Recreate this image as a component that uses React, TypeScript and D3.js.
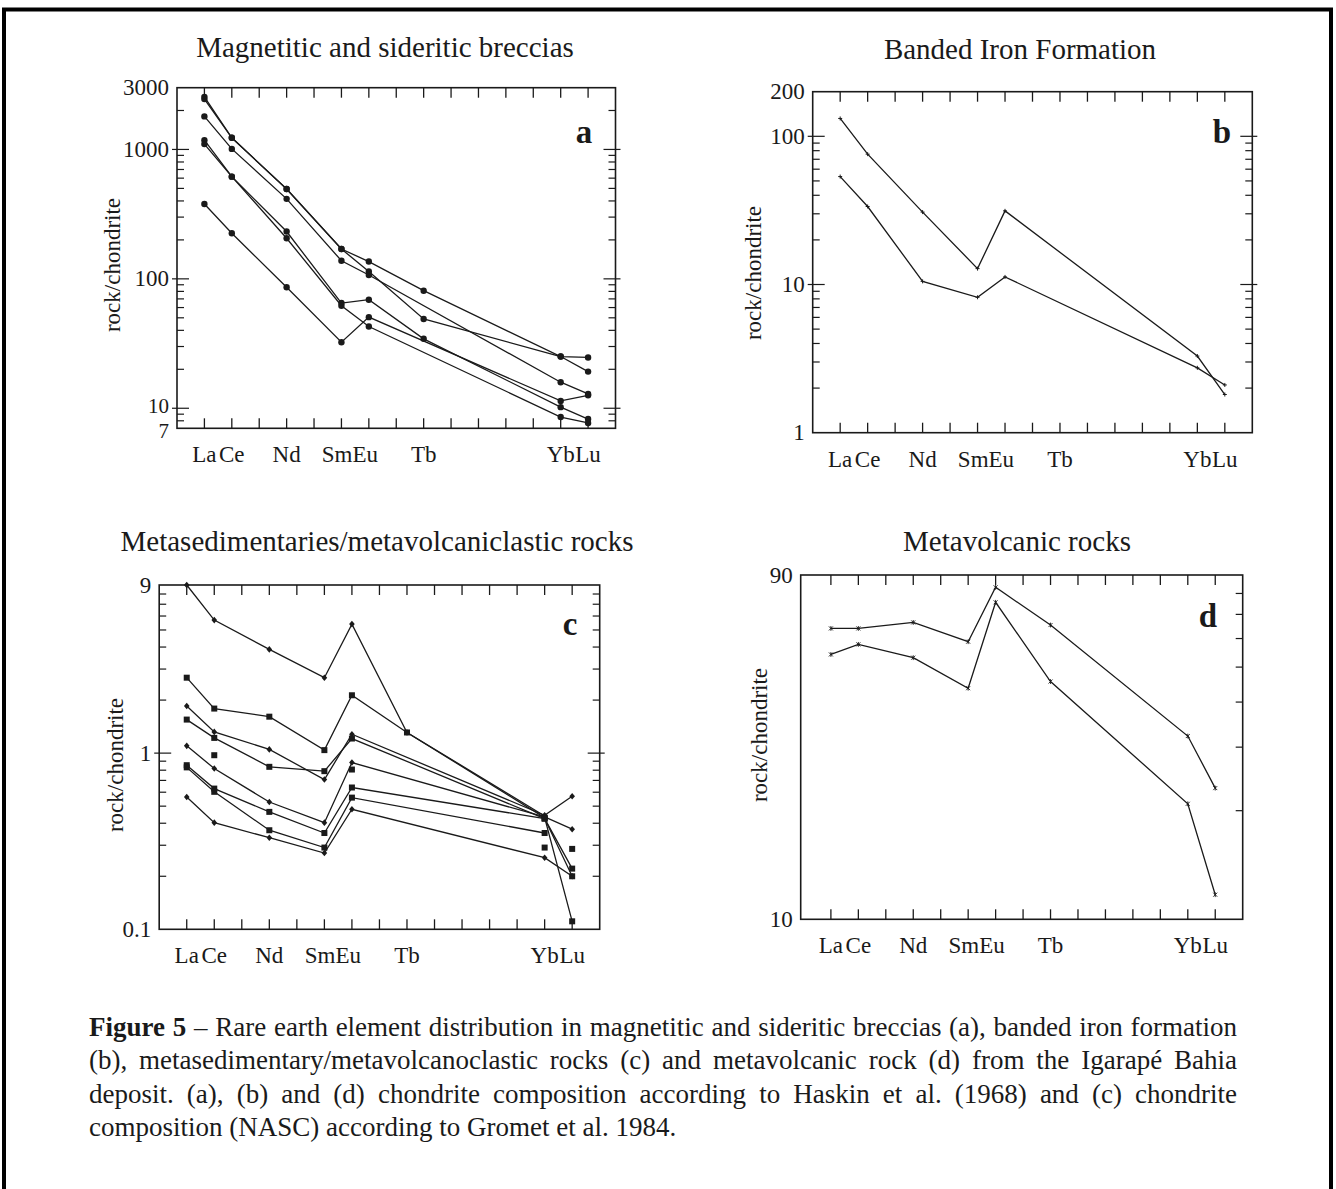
import React, { useLayoutEffect, useRef, useState } from 'react';
import * as d3 from 'd3';

// ---------- shared axis data ----------
const ELEMENTS = ['La', 'Ce', 'Nd', 'Sm', 'Eu', 'Tb', 'Yb', 'Lu'];
const ATOMIC = [57, 58, 60, 62, 63, 65, 70, 71];
const REE_TICKS = [57, 58, 59, 60, 61, 62, 63, 64, 65, 66, 67, 68, 69, 70, 71];

// ---------- panel a ----------
const A_TITLE = 'Magnetitic and sideritic breccias';
const A_Y_LABELS = [3000, 1000, 100, 10, 7];
const A_S1 = [2550, 1230, 495, 170, 136, 81, 25.1, 24.7];
const A_S2 = [2450, 1230, 495, 170, 114, 49, 25.1, 19.2];
const A_S3 = [1800, 1010, 415, 138, 107, null, 15.9, 12.9];
const A_S4 = [1180, 616, 232, 65, 69, 34.4, 10.2, 8.25];
const A_S5 = [1100, 616, 206, 62, 42.8, null, 8.55, 7.7];
const A_S6 = [379, 225, 86, 32.4, 50.6, null, 11.4, 12.6];

// ---------- panel b ----------
const B_TITLE = 'Banded Iron Formation';
const B_Y_LABELS = [200, 100, 10, 1];
const B_S1 = [132, 75.8, 30.8, 12.8, 31.4, null, 3.29, 1.81];
const B_S2 = [53.5, 33.6, 10.5, 8.2, 11.25, null, 2.74, 2.1];

// ---------- panel c ----------
const C_TITLE = 'Metasedimentaries/metavolcaniclastic rocks';
const C_Y_LABELS = [9, 1, 0.1];
const C_S1 = [9.0, 5.69, 3.88, 2.68, 5.4, 1.31, 0.44, null];
const C_S2 = [2.68, 1.79, 1.61, 1.04, 2.13, 1.31, 0.43, 0.111];
const C_S3 = [1.85, 1.32, 1.05, 0.708, 1.28, null, 0.444, 0.569];
const C_S4 = [1.55, 1.22, 0.836, 0.79, 1.21, null, 0.425, 0.221];
const C_S5 = [1.1, 0.818, 0.528, 0.403, 0.884, null, 0.434, 0.37];
const C_S6 = [0.854, 0.629, 0.464, 0.352, 0.638, null, 0.425, 0.2];
const C_S7 = [0.83, 0.603, 0.365, 0.291, 0.559, null, 0.352, null];
const C_S8 = [0.564, 0.403, 0.331, 0.271, 0.48, null, 0.255, 0.2];
const C_P1 = [null, 0.973, null, null, null, null, null, null];
const C_P2 = [null, null, null, null, 0.807, null, null, null];
const C_P3 = [null, null, null, null, null, null, 0.291, null];
const C_P4 = [null, null, null, null, null, null, null, 0.286];

// ---------- panel d ----------
const D_TITLE = 'Metavolcanic rocks';
const D_Y_LABELS = [90, 10];
const D_S1 = [64.0, 64.0, 66.5, 58.8, 83.2, 65.4, 32.2, 23.1];
const D_S2 = [54.2, 57.8, 53.1, 43.7, 75.6, 45.6, 20.9, 11.7];

// ---------- caption ----------
const CAPTION_BOLD = 'Figure 5';
const CAPTION_LINES = [
  'Figure 5 \u2013 Rare earth element distribution in magnetitic and sideritic breccias (a), banded iron formation',
  '(b), metasedimentary/metavolcanoclastic rocks (c) and metavolcanic rock (d) from the Igarap\u00e9 Bahia',
  'deposit. (a), (b) and (d) chondrite composition according to Haskin et al. (1968) and (c) chondrite',
  'composition (NASC) according to Gromet et al. 1984.',
];

type Marker = 'circle' | 'plus' | 'diamond' | 'square' | 'star';
type Series = { values: (number | null)[]; marker: Marker };
type PanelSpec = {
  key: string;
  title: string;
  titleX: number;
  titleY: number;
  letter: string;
  letterX: number;
  letterY: number;
  x0: number;
  left: number;
  right: number;
  top: number;
  bottom: number;
  yMin: number;
  yMax: number;
  yLabels: number[];
  leftTicks: boolean;
  series: Series[];
  ylabX: number;
  ylabY: number;
};

const PANELS: PanelSpec[] = [
  {
    key: 'a', title: A_TITLE, titleX: 385, titleY: 57, letter: 'a', letterX: 584, letterY: 143,
    x0: 56, left: 177, right: 615.5, top: 87.7, bottom: 428.3, yMin: 7, yMax: 3000,
    yLabels: A_Y_LABELS, leftTicks: true, ylabX: 112, ylabY: 265,
    series: [A_S1, A_S2, A_S3, A_S4, A_S5, A_S6].map((v) => ({ values: v, marker: 'circle' as Marker })),
  },
  {
    key: 'b', title: B_TITLE, titleX: 1020, titleY: 59, letter: 'b', letterX: 1222, letterY: 143,
    x0: 56, left: 812.7, right: 1252.3, top: 91.7, bottom: 432.7, yMin: 1, yMax: 200,
    yLabels: B_Y_LABELS, leftTicks: true, ylabX: 753, ylabY: 273,
    series: [B_S1, B_S2].map((v) => ({ values: v, marker: 'plus' as Marker })),
  },
  {
    key: 'c', title: C_TITLE, titleX: 377, titleY: 551, letter: 'c', letterX: 570, letterY: 635,
    x0: 56, left: 159.2, right: 599.7, top: 585, bottom: 929.3, yMin: 0.1, yMax: 9,
    yLabels: C_Y_LABELS, leftTicks: true, ylabX: 115, ylabY: 765,
    series: [
      { values: C_S1, marker: 'diamond' },
      { values: C_S2, marker: 'square' },
      { values: C_S3, marker: 'diamond' },
      { values: C_S4, marker: 'square' },
      { values: C_S5, marker: 'diamond' },
      { values: C_S6, marker: 'square' },
      { values: C_S7, marker: 'square' },
      { values: C_S8, marker: 'diamond' },
      { values: C_P1, marker: 'square' },
      { values: C_P2, marker: 'square' },
      { values: C_P3, marker: 'square' },
      { values: C_P4, marker: 'square' },
    ],
  },
  {
    key: 'd', title: D_TITLE, titleX: 1017, titleY: 551, letter: 'd', letterX: 1208, letterY: 627,
    x0: 55.9, left: 800.7, right: 1242.7, top: 575, bottom: 919.3, yMin: 10, yMax: 90,
    yLabels: D_Y_LABELS, leftTicks: false, ylabX: 759, ylabY: 735,
    series: [D_S1, D_S2].map((v) => ({ values: v, marker: 'star' as Marker })),
  },
];

const SERIF = '"Liberation Serif", "Times New Roman", Times, serif';
const INK = '#1a1a1a';

function MarkerShape({ m, cx, cy }: { m: Marker; cx: number; cy: number }) {
  if (m === 'circle') return <circle cx={cx} cy={cy} r={3.2} fill={INK} />;
  if (m === 'square') return <rect x={cx - 3} y={cy - 3} width={6} height={6} fill={INK} />;
  if (m === 'diamond')
    return <path d={`M${cx},${cy - 3.3}L${cx + 2.8},${cy}L${cx},${cy + 3.3}L${cx - 2.8},${cy}Z`} fill={INK} />;
  if (m === 'plus')
    return <path d={`M${cx - 2},${cy}H${cx + 2}M${cx},${cy - 2}V${cy + 2}`} stroke={INK} strokeWidth={1} />;
  return (
    <path
      d={`M${cx - 2},${cy - 2}L${cx + 2},${cy + 2}M${cx - 2},${cy + 2}L${cx + 2},${cy - 2}M${cx},${cy - 2.4}V${cy + 2.4}`}
      stroke={INK}
      strokeWidth={0.9}
    />
  );
}

function Panel({ p }: { p: PanelSpec }) {
  const x = d3.scaleLinear().domain([p.x0, 72]).range([p.left, p.right]);
  const y = d3.scaleLog().domain([p.yMin, p.yMax]).range([p.bottom, p.top]);
  const line = d3
    .line<[number, number]>()
    .x((d) => x(d[0]))
    .y((d) => y(d[1]));
  const yTicks = y.ticks().filter((v) => v > p.yMin * 1.0001 && v < p.yMax * 0.9999);
  const isMajor = (v: number) => Math.abs(Math.log10(v) - Math.round(Math.log10(v))) < 1e-6;
  const step = x(58) - x(57);
  const labelBase = p.bottom + 34;
  const nLab = p.yLabels.length;

  return (
    <g>
      <text x={p.titleX} y={p.titleY} textAnchor="middle" fontFamily={SERIF} fontSize={29} fill={INK}>
        {p.title}
      </text>
      <rect x={p.left} y={p.top} width={p.right - p.left} height={p.bottom - p.top} fill="none" stroke={INK} strokeWidth={1.6} />
      {REE_TICKS.map((z) => (
        <g key={'xt' + z}>
          <line x1={x(z)} x2={x(z)} y1={p.bottom} y2={p.bottom - 10} stroke={INK} strokeWidth={1.3} />
          <line x1={x(z)} x2={x(z)} y1={p.top} y2={p.top + 10} stroke={INK} strokeWidth={1.3} />
        </g>
      ))}
      {yTicks.map((v, i) => {
        const maj = isMajor(v);
        const yy = y(v);
        const len = maj ? 12 : 7;
        return (
          <g key={'yt' + i}>
            {p.leftTicks && (
              <line x1={p.left - (maj ? 5 : 0)} x2={p.left + len} y1={yy} y2={yy} stroke={INK} strokeWidth={1.2} />
            )}
            <line x1={p.right + (maj ? 5 : 0)} x2={p.right - len} y1={yy} y2={yy} stroke={INK} strokeWidth={1.2} />
          </g>
        );
      })}
      {p.yLabels.map((v, i) => {
        // the two lowest labels of panel a sit very close together; spread them slightly
        const crowded = p.key === 'a' && i >= nLab - 2;
        const dy = crowded ? (i === nLab - 1 ? 3 : -2) : 0;
        return (
          <text
            key={'yl' + v}
            x={p.left - 8}
            y={y(v) + dy}
            textAnchor="end"
            dominantBaseline="central"
            fontFamily={SERIF}
            fontSize={crowded ? 21 : 23}
            fill={INK}
          >
            {String(v)}
          </text>
        );
      })}
      {ELEMENTS.map((el, i) => {
        const z = ATOMIC[i];
        let anchor: 'middle' | 'start' | 'end' = 'middle';
        let lx = x(z);
        if (el === 'Sm') {
          anchor = 'end';
          lx = x(63) - 0.6 * step;
        } else if (el === 'Eu') {
          anchor = 'start';
          lx = x(63) - 0.6 * step;
        }
        return (
          <text key={'xl' + el} x={lx} y={labelBase} textAnchor={anchor} fontFamily={SERIF} fontSize={23} fill={INK}>
            {el}
          </text>
        );
      })}
      <text
        transform={`translate(${p.ylabX},${p.ylabY}) rotate(-90)`}
        textAnchor="middle"
        dominantBaseline="central"
        fontFamily={SERIF}
        fontSize={23}
        fill={INK}
      >
        rock/chondrite
      </text>
      <text x={p.letterX} y={p.letterY} textAnchor="middle" fontFamily={SERIF} fontSize={33} fontWeight="bold" fill={INK}>
        {p.letter}
      </text>
      {p.series.map((s, si) => {
        const pts: [number, number][] = [];
        s.values.forEach((v, i) => {
          if (v != null) pts.push([ATOMIC[i], v]);
        });
        return (
          <g key={'s' + si}>
            {pts.length > 1 && <path d={line(pts) || ''} fill="none" stroke={INK} strokeWidth={1.3} />}
            {pts.map((d, k) => (
              <MarkerShape key={k} m={s.marker} cx={x(d[0])} cy={y(d[1])} />
            ))}
          </g>
        );
      })}
    </g>
  );
}

const CAP_LEFT = 89;
const CAP_RIGHT = 1237;
const CAP_BASE = 1036;
const CAP_LEAD = 33.4;

export default function App() {
  const capRefs = useRef<(SVGTextElement | null)[]>([]);
  const [ws, setWs] = useState<number[]>(CAPTION_LINES.map(() => 0));

  useLayoutEffect(() => {
    const next = CAPTION_LINES.map((line, i) => {
      const el = capRefs.current[i];
      if (!el || i === CAPTION_LINES.length - 1) return 0;
      const w = el.getComputedTextLength();
      const spaces = (line.match(/ /g) || []).length;
      return spaces ? Math.max(-2, (CAP_RIGHT - CAP_LEFT - w) / spaces) : 0;
    });
    setWs(next);
  }, []);

  return (
    <svg
      width={1336}
      height={1189}
      style={{ position: 'absolute', left: 0, top: 0, background: '#fff' }}
      xmlns="http://www.w3.org/2000/svg"
    >
      <rect x={0} y={0} width={1336} height={1189} fill="#fff" />
      <rect x={4} y={9.5} width={1327} height={1260} fill="none" stroke="#000" strokeWidth={4} />
      {PANELS.map((p) => (
        <Panel key={p.key} p={p} />
      ))}
      {CAPTION_LINES.map((line, i) => (
        <text
          key={'cap' + i}
          ref={(el) => {
            capRefs.current[i] = el;
          }}
          x={CAP_LEFT}
          y={CAP_BASE + i * CAP_LEAD}
          fontFamily={SERIF}
          fontSize={27}
          fill={INK}
          style={{ wordSpacing: `${ws[i]}px` }}
        >
          {line.startsWith(CAPTION_BOLD) ? (
            <>
              <tspan fontWeight="bold">{CAPTION_BOLD}</tspan>
              <tspan>{line.slice(CAPTION_BOLD.length)}</tspan>
            </>
          ) : (
            line
          )}
        </text>
      ))}
    </svg>
  );
}
